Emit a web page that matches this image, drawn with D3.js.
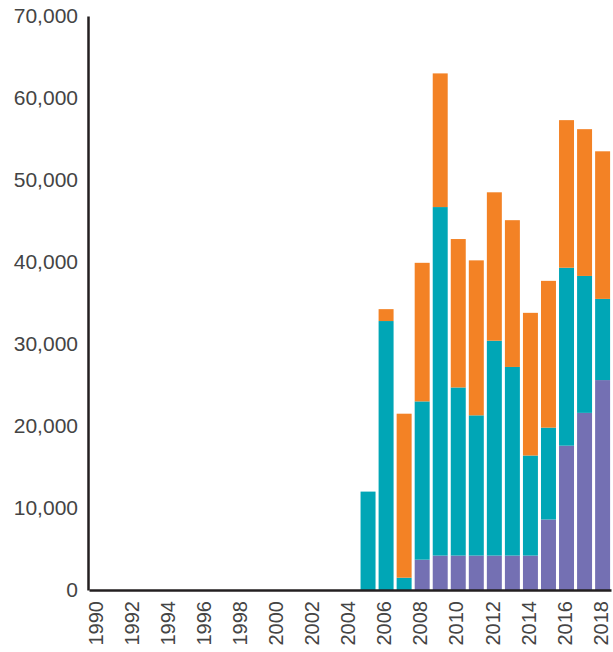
<!DOCTYPE html>
<meta charset="utf-8">
<script src="https://d3js.org/d3.v7.min.js"></script>
<style>
    body { margin: 0; background: #fff; }
    text { font-family: "Liberation Sans", Arial, sans-serif; }
</style>
<div id="my_chart"></div>
<script>
    // data
    var years = d3.range(1990, 2019).map(String);
    var purple = [0,0,0,0,0,0,0,0,0,0,0,0,0,0,0, 0,0,0,3700,4200,4200,4200,4200,4200,4200,8600,17600,21600,25600];
    var teal   = [0,0,0,0,0,0,0,0,0,0,0,0,0,0,0, 12000,32800,1500,19300,42500,20500,17100,26200,23000,12200,11200,21700,16700,9900];
    var orange = [0,0,0,0,0,0,0,0,0,0,0,0,0,0,0, 0,1450,20000,16900,16300,18100,18900,18100,17900,17400,17900,18000,17900,18000];
    var yTicks = [0, 10000, 20000, 30000, 40000, 50000, 60000, 70000];
    var xTicks = years.filter(function(d, i) { return i % 2 === 0; });

    var keys = ["purple", "teal", "orange"];
    var colors = {purple: "#7470b3", teal: "#00a6b6", orange: "#f38225"};

    var table = years.map(function(y, i) {
        return {year: y, purple: purple[i], teal: teal[i], orange: orange[i]};
    });

    var margin = {top: 16, right: 2, bottom: 62, left: 88},
        width = 613 - margin.left - margin.right,
        height = 652 - margin.top - margin.bottom;

    var svg = d3.select("#my_chart")
        .append("svg")
        .attr("width", 613)
        .attr("height", 652)
        .append("g")
        .attr("transform", "translate(" + margin.left + "," + margin.top + ")");

    var x = d3.scaleBand()
        .domain(years)
        .range([1, width])
        .paddingInner(0.17)
        .paddingOuter(0.05);

    var y = d3.scaleLinear()
        .domain([0, 70000])
        .range([height, 0]);

    var stack = d3.stack().keys(keys)(table);

    // bars
    svg.selectAll("g.layer")
        .data(stack)
        .enter()
        .append("g")
        .attr("class", "layer")
        .attr("fill", function(d) { return colors[d.key]; })
        .selectAll("rect")
        .data(function(d) { return d; })
        .enter()
        .append("rect")
        .attr("x", function(d) { return x(d.data.year); })
        .attr("width", x.bandwidth())
        .attr("y", function(d) { return y(d[1]); })
        .attr("height", function(d) { return y(d[0]) - y(d[1]); });

    // Y axis
    var yAxis = svg.append("g")
        .call(d3.axisLeft(y).tickValues(yTicks).tickSize(0).tickPadding(10)
            .tickFormat(d3.format(",")));
    yAxis.select(".domain").attr("stroke", "#231f20").attr("stroke-width", 2.5);
    yAxis.selectAll("text")
        .style("font-size", "21px")
        .attr("fill", "#444");

    // X axis
    var xAxis = svg.append("g")
        .attr("transform", "translate(0," + height + ")")
        .call(d3.axisBottom(x).tickValues(xTicks).tickSize(0).tickPadding(0));
    xAxis.select(".domain").attr("stroke", "#231f20").attr("stroke-width", 2.5);
    xAxis.selectAll("text")
        .style("font-size", "20px")
        .attr("fill", "#444")
        .attr("text-anchor", "end")
        .attr("dy", "0.36em")
        .attr("transform", "translate(-2,11) rotate(-90)")
        .attr("y", 0)
        .attr("x", 0);
</script>
